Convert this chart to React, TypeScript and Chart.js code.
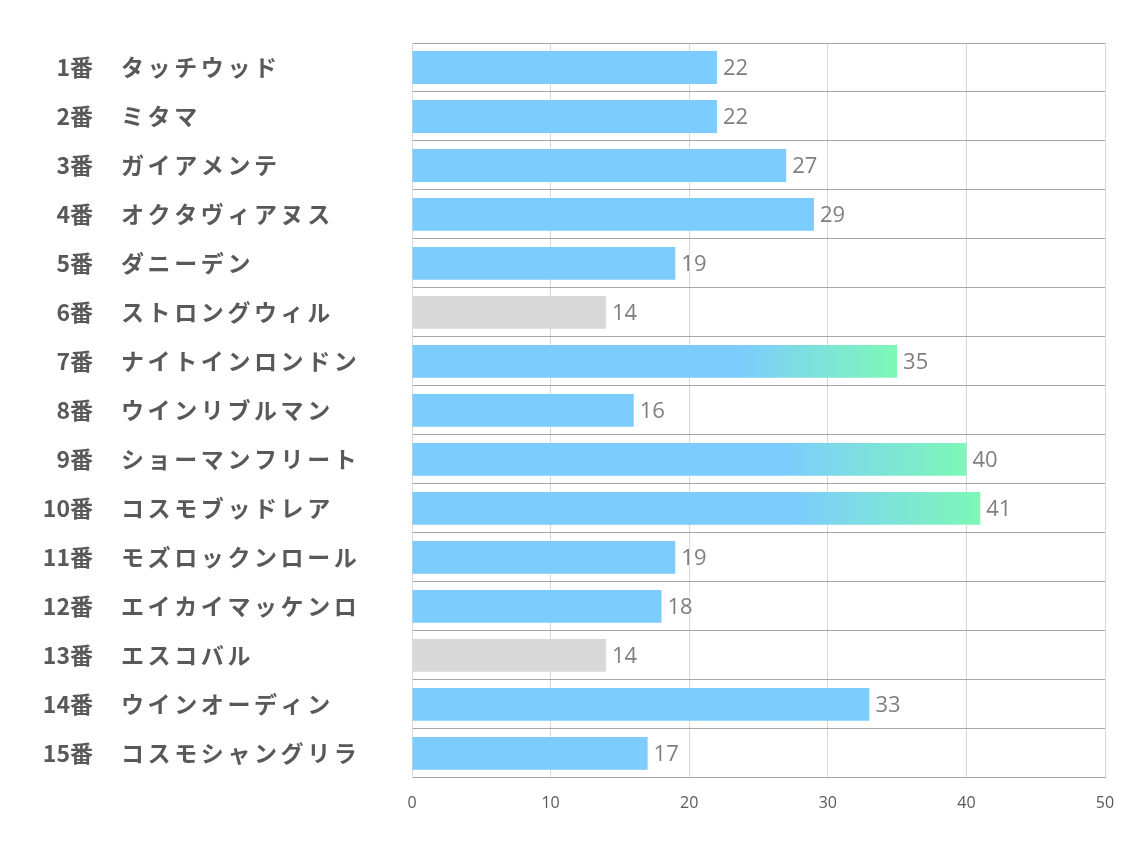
import React, { useEffect, useRef } from "react";
import { Chart, registerables } from "chart.js";

Chart.register(...registerables);

const horseNumbers: string[] = ["1番", "2番", "3番", "4番", "5番", "6番", "7番", "8番", "9番", "10番", "11番", "12番", "13番", "14番", "15番"];
const horseNames: string[] = [
  "タッチウッド",
  "ミタマ",
  "ガイアメンテ",
  "オクタヴィアヌス",
  "ダニーデン",
  "ストロングウィル",
  "ナイトインロンドン",
  "ウインリブルマン",
  "ショーマンフリート",
  "コスモブッドレア",
  "モズロックンロール",
  "エイカイマッケンロ",
  "エスコバル",
  "ウインオーディン",
  "コスモシャングリラ",
];
const scores: number[] = [22, 22, 27, 29, 19, 14, 35, 16, 40, 41, 19, 18, 14, 33, 17];
const xTicks: number[] = [0, 10, 20, 30, 40, 50];

const BLUE = "rgb(124,204,253)";
const GREEN = "rgb(126,248,183)";
const GRAY = "rgb(217,217,217)";

const minScore = Math.min(...scores);
const topThreshold = [...scores].sort((a, b) => b - a)[2];

const labelPlugin = {
  id: "customLabels",
  afterDraw(chart: any) {
    const ctx = chart.ctx;
    const yScale = chart.scales.y;
    ctx.save();
    ctx.fillStyle = "#595959";
    ctx.textBaseline = "middle";
    ctx.font = "bold 23px 'Noto Sans CJK JP'";
    horseNumbers.forEach((num, i) => {
      const y = yScale.getPixelForValue(i);
      ctx.textAlign = "right";
      (ctx as any).letterSpacing = "0px";
      ctx.fillText(num, 93, y);
      ctx.textAlign = "left";
      (ctx as any).letterSpacing = "3.6px";
      ctx.fillText(horseNames[i], 121, y);
    });
    (ctx as any).letterSpacing = "0px";
    ctx.restore();
  },
};

const valuePlugin = {
  id: "valueLabels",
  afterDatasetsDraw(chart: any) {
    const ctx = chart.ctx;
    const meta = chart.getDatasetMeta(0);
    ctx.save();
    ctx.fillStyle = "#7f7f7f";
    ctx.font = "22px 'Open Sans'";
    ctx.textAlign = "left";
    ctx.textBaseline = "middle";
    meta.data.forEach((bar: any, i: number) => {
      ctx.fillText(String(scores[i]), bar.x + 6, bar.y + 1);
    });
    ctx.restore();
  },
};

export default function App() {
  const canvasRef = useRef<HTMLCanvasElement | null>(null);

  useEffect(() => {
    if (!canvasRef.current) return;
    const chart = new Chart(canvasRef.current, {
      type: "bar",
      data: {
        labels: horseNames,
        datasets: [
          {
            data: scores,
            backgroundColor: (c: any) => {
              const v = scores[c.dataIndex];
              if (v === minScore) return GRAY;
              if (v >= topThreshold) {
                const chartObj = c.chart;
                if (!chartObj.chartArea) return BLUE;
                const xs = chartObj.scales.x;
                const x0 = xs.getPixelForValue(0);
                const x1 = xs.getPixelForValue(v);
                const g = chartObj.ctx.createLinearGradient(x0, 0, x1, 0);
                g.addColorStop(0, BLUE);
                g.addColorStop(0.67, BLUE);
                g.addColorStop(1, GREEN);
                return g;
              }
              return BLUE;
            },
            borderWidth: 0,
            barPercentage: 0.67,
            categoryPercentage: 1,
          },
        ],
      },
      options: {
        indexAxis: "y",
        animation: false,
        responsive: true,
        maintainAspectRatio: false,
        layout: { padding: { left: 412, right: 29, top: 43, bottom: 21 } },
        plugins: {
          legend: { display: false },
          tooltip: { enabled: false },
        },
        scales: {
          x: {
            min: 0,
            max: 50,
            afterBuildTicks: (scale: any) => {
              scale.ticks = xTicks.map((v) => ({ value: v }));
            },
            grid: { color: "#d9d9d9", drawTicks: false, lineWidth: 1 },
            border: { display: true, color: "#a6a6a6" },
            ticks: {
              color: "#595959",
              font: { family: "'Open Sans'", size: 16 },
              padding: 16,
            },
          },
          y: {
            grid: { color: "#a6a6a6", drawTicks: false, offset: true },
            border: { display: true, color: "#d9d9d9" },
            ticks: { display: false },
          },
        },
      } as any,
      plugins: [labelPlugin, valuePlugin],
    });
    return () => chart.destroy();
  }, []);

  return (
    <div style={{ position: "fixed", left: 0, top: 0, width: 1134, height: 850, background: "#fff" }}>
      <canvas ref={canvasRef} />
    </div>
  );
}
